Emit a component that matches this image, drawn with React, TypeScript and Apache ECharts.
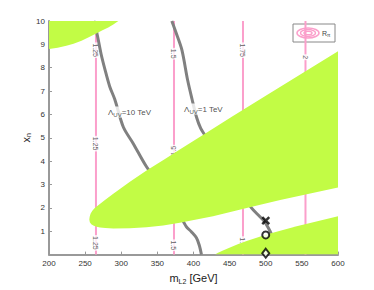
import React, { useEffect, useRef } from "react";
import * as echarts from "echarts";

const FONT = "'Liberation Sans', Arial, Helvetica, sans-serif";
const GREEN = "#c2fc45";
const PINK = "#fb9fcb";
const GRAY = "#808080";

// green regions (polygons in data coords)
const region1: number[][] = [
  [200, 10], [296, 10], [289, 9.85], [282, 9.72], [274, 9.6], [266, 9.48], [255, 9.3], [245, 9.15], [234, 9.03], [224, 8.94], [212, 8.86], [200, 8.8],
];
const region2: number[][] = [
  [255.8, 1.5], [256.3, 1.62], [257.5, 1.75], [260, 1.88], [263, 1.98], [266, 2.06], [277, 2.33], [289, 2.6], [312, 3.12], [335, 3.6],
  [360, 4.08], [381, 4.5], [418, 5.22], [453, 5.9], [500, 6.8], [550, 7.75], [600, 8.7],
  [600, 2.87], [560, 2.6], [520, 2.34], [473.6, 1.99], [427, 1.64], [381, 1.36], [358, 1.25], [335, 1.17], [312, 1.13],
  [289, 1.12], [278, 1.14], [270.6, 1.16], [266, 1.19], [262, 1.23], [258.5, 1.3], [256.5, 1.38],
];
const region3: number[][] = [
  [429.7, 0], [434, 0.08], [440, 0.16], [450.5, 0.3], [462, 0.45], [473.6, 0.58], [501, 0.86], [542.8, 1.21], [600, 1.64], [600, 0],
];

// gray contour curves
const uv10: number[][] = [
  [262, 10], [266, 9.53], [272, 8.6], [277.5, 7.92], [284, 7.2], [291, 6.65], [303, 5.45], [316.7, 4.75], [335, 3.76],
  [360, 2.7], [380, 1.75], [390, 1.2], [397, 0.98], [404, 0.72], [408, 0.4], [411, 0],
];
const uv1: number[][] = [
  [370, 10], [377, 9.4], [384, 8.75], [392, 7.45], [398, 6.65], [404, 5.9], [410, 5.4], [416, 5.1],
  [440, 3.9], [462, 2.8], [480.5, 1.99], [492, 1.62], [499, 1.38], [506, 1.0], [512, 0.6],
];

// pink contours: x, label position y, label text, label rotation
const pinkX = [265, 373, 468.5, 555];
const pinkLabelPts: (number | string)[][] = [
  [265, 8.75, "1.25", -90], [265, 4.75, "1.25", -90], [265, 0.5, "1.25", -90],
  [373, 8.6, "1.5", -90], [373, 4.45, "1.5", 90], [373, 0.4, "1.5", -90],
  [468.5, 8.75, "1.75", -90], [468.5, 0.45, "1.75", -90],
  [555, 8.45, "2", -90],
];

const markX = [[500, 1.45]];
const markO = [[500, 0.84]];
const markD = [[500, 0.06]];

const uvLabels: (number | string)[][] = [
  [281.7, 6.1, "10"],
  [386.9, 6.23, "1"],
];

function poly(pts: number[][]) {
  return {
    type: "custom",
    coordinateSystem: "cartesian2d",
    clip: true,
    silent: true,
    z: 3,
    data: pts,
    encode: { x: 0, y: 1 },
    renderItem: (params: any, api: any) => {
      if (params.dataIndex !== 0) return null;
      const points = pts.map((p) => api.coord(p));
      return { type: "polygon", shape: { points }, style: { fill: GREEN, stroke: "none" } };
    },
  };
}

export default function App() {
  const ref = useRef<HTMLDivElement>(null);
  useEffect(() => {
    document.body.style.margin = "0";
    const chart = echarts.init(ref.current!, null, { renderer: "svg" });
    const axisText = { fontSize: 8, color: "#333", fontFamily: FONT };
    const series: any[] = [];
    pinkX.forEach((x) => {
      series.push({
        type: "line",
        data: [[x, 0], [x, 10]],
        symbol: "none",
        silent: true,
        z: 1,
        lineStyle: { color: PINK, width: 2 },
      });
    });
    series.push({
      type: "scatter",
      data: pinkLabelPts.map((p) => ({ value: [p[0], p[1], p[2]], label: { rotate: p[3] } })),
      symbolSize: 0,
      silent: true,
      z: 1,
      label: {
        show: true,
        position: "inside",
        formatter: (p: any) => p.value[2],
        fontSize: 7,
        color: "#333",
        fontFamily: FONT,
        backgroundColor: "#fff",
        padding: [0, 1],
      },
    });
    [uv10, uv1].forEach((d) => {
      series.push({
        type: "line",
        data: d,
        symbol: "none",
        smooth: 0.3,
        silent: true,
        z: 2,
        lineStyle: { color: GRAY, width: 3 },
      });
    });
    series.push(poly(region1), poly(region2), poly(region3));
    series.push({
      type: "scatter",
      data: uvLabels,
      symbolSize: 0,
      silent: true,
      z: 4,
      label: {
        show: true,
        position: "right",
        distance: 0,
        formatter: (p: any) => `{a|Λ}{b|UV}{a|=${p.value[2]} TeV}`,
        backgroundColor: "#fff",
        rich: {
          a: { fontSize: 8, color: "#222", fontFamily: FONT },
          b: { fontSize: 6, color: "#222", fontFamily: FONT, padding: [5, 0, 0, 0] },
        },
      },
    });
    series.push({
      type: "scatter",
      data: markX,
      symbol: "path://M0,0 L10,10 M10,0 L0,10",
      symbolSize: 7,
      z: 5,
      itemStyle: { color: "none", borderColor: "#000", borderWidth: 2.5 },
    });
    series.push({
      type: "scatter",
      data: markO,
      symbol: "circle",
      symbolSize: 7,
      z: 5,
      itemStyle: { color: "#fff", borderColor: "#000", borderWidth: 2 },
    });
    series.push({
      type: "scatter",
      data: markD,
      symbol: "diamond",
      symbolSize: [7, 9],
      z: 5,
      itemStyle: { color: "#fff", borderColor: "#000", borderWidth: 2 },
    });

    chart.setOption({
      animation: false,
      grid: { left: 49, right: 36, top: 21, bottom: 33, containLabel: false },
      xAxis: {
        type: "value",
        min: 200,
        max: 600,
        interval: 50,
        name: "{m|m}{s|L2}{m| [GeV]}",
        nameLocation: "middle",
        nameGap: 8,
        nameTextStyle: {
          rich: {
            m: { fontSize: 11, color: "#222", fontFamily: FONT },
            s: { fontSize: 7, color: "#222", fontFamily: FONT, padding: [7, 0, 0, 0] },
          },
        },
        axisLine: { show: true, lineStyle: { color: "#999", width: 2 } },
        axisTick: { show: true, inside: true, length: 3, lineStyle: { color: "#999" } },
        axisLabel: { ...axisText, margin: 5 },
        splitLine: { show: false },
      },
      yAxis: {
        type: "value",
        min: 0,
        max: 10,
        interval: 1,
        name: "{m|x}{s|n}",
        nameLocation: "middle",
        nameMoveOverlap: false,
        nameGap: 17,
        nameTextStyle: {
          rich: {
            m: { fontSize: 11, color: "#222", fontFamily: FONT },
            s: { fontSize: 7, color: "#222", fontFamily: FONT, padding: [6, 0, 0, 0] },
          },
        },
        axisLine: { show: true, onZero: false, lineStyle: { color: "#999", width: 2 } },
        axisTick: { show: true, inside: true, length: 3, lineStyle: { color: "#999" } },
        axisLabel: { ...axisText, margin: 4, showMinLabel: false },
        splitLine: { show: false },
      },
      graphic: [
        {
          type: "group",
          z: 100,
          children: [
            { type: "rect", shape: { x: 293, y: 24, width: 42, height: 18 }, style: { fill: "#fff", stroke: "#888", lineWidth: 1 } },
            { type: "ellipse", shape: { cx: 308, cy: 33, rx: 11, ry: 5 }, style: { fill: "none", stroke: PINK, lineWidth: 1.5 } },
            { type: "ellipse", shape: { cx: 308, cy: 33, rx: 7.5, ry: 3.4 }, style: { fill: "none", stroke: PINK, lineWidth: 1.5 } },
            { type: "ellipse", shape: { cx: 308, cy: 33, rx: 4, ry: 1.8 }, style: { fill: "none", stroke: PINK, lineWidth: 1.5 } },
            {
              type: "text",
              x: 322,
              y: 33,
              style: {
                text: "{r|R}{s|π}",
                verticalAlign: "middle",
                rich: {
                  r: { fontSize: 7, fill: "#444", fontFamily: FONT },
                  s: { fontSize: 5, fill: "#444", fontFamily: FONT, padding: [4, 0, 0, 0] },
                },
              },
            },
          ],
        },
      ],
      series,
    });
    return () => chart.dispose();
  }, []);
  return <div ref={ref} style={{ width: 374, height: 290 }} />;
}
